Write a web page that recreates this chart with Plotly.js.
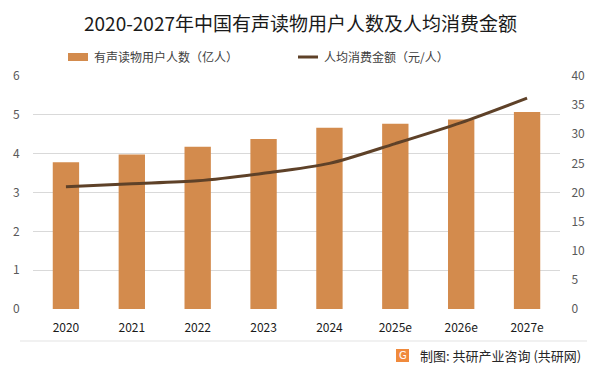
<!DOCTYPE html>
<html>
<head>
<meta charset="utf-8">
<script src="https://cdn.plot.ly/plotly-3.0.1.min.js"></script>
<style>
html,body{margin:0;padding:0;background:#fff;}
#chart{width:601px;height:373px;}
</style>
</head>
<body>
<div id="chart"></div>
<script>
const years = ["2020","2021","2022","2023","2024","2025e","2026e","2027e"];
const users = [3.78, 3.98, 4.18, 4.38, 4.67, 4.77, 4.88, 5.07];
const spend = [21.0, 21.5, 22.0, 23.3, 25.0, 28.4, 32.0, 36.2];
const leftTicks = [0,1,2,3,4,5,6];
const rightTicks = [0,5,10,15,20,25,30,35,40];
const titleText = "2020-2027年中国有声读物用户人数及人均消费金额";
const nameBar = "有声读物用户人数（亿人）";
const nameLine = "人均消费金额（元/人）";
const sourceText = "制图: 共研产业咨询 (共研网)";

const FONT = "'Noto Sans CJK SC', 'Noto Sans', sans-serif";
const barColor = "#D38B4D";
const lineColor = "#5E4128";

const traces = [
  {type:"bar", x:years, y:users, name:nameBar, marker:{color:barColor}, yaxis:"y", showlegend:false, hoverinfo:"y"},
  {type:"scatter", mode:"lines", x:years, y:spend, name:nameLine, yaxis:"y2",
   line:{color:lineColor, width:3, shape:"spline", smoothing:0.8}, showlegend:false}
];

const layout = {
  width:601, height:373,
  margin:{l:33, r:41, t:76, b:64},
  paper_bgcolor:"#fff", plot_bgcolor:"#fff",
  font:{family:FONT, color:"#595959", size:12},
  bargap:0.6,
  showlegend:false,
  title:{text:titleText, x:0.5, xanchor:"center", y:1-24/373, yanchor:"middle",
         font:{family:FONT, size:19, color:"#1a1a1a"}},
  xaxis:{type:"category", showgrid:false, zeroline:false, showline:false,
         ticks:"outside", ticklen:8, tickcolor:"rgba(0,0,0,0)",
         tickfont:{family:FONT, size:12, color:"#1a1a1a"}},
  yaxis:{range:[0,6], tickvals:leftTicks, showgrid:true, gridcolor:"#d9d9d9", gridwidth:1,
         zeroline:false, showline:false, ticks:"outside", ticklen:10, tickcolor:"rgba(0,0,0,0)",
         tickfont:{family:FONT, size:12, color:"#595959"}},
  yaxis2:{range:[0,40], tickvals:rightTicks, overlaying:"y", side:"right", showgrid:false,
          zeroline:false, showline:false, ticks:"outside", ticklen:8, tickcolor:"rgba(0,0,0,0)",
          tickfont:{family:FONT, size:12, color:"#595959"}},
  shapes:[
    {type:"rect", xref:"paper", yref:"paper", x0:(68-33)/527, x1:(88-33)/527, y0:(309-61)/233, y1:(309-53)/233,
     fillcolor:barColor, line:{width:0}},
    {type:"line", xref:"paper", yref:"paper", x0:(298-33)/527, x1:(318-33)/527, y0:(309-57)/233, y1:(309-57)/233,
     line:{color:lineColor, width:3}},
    {type:"line", xref:"paper", yref:"paper", x0:(20-33)/527, x1:(587-33)/527, y0:(309-341)/233, y1:(309-341)/233,
     line:{color:"#e3e3e3", width:1}},
    {type:"rect", xref:"paper", yref:"paper", x0:(396-33)/527, x1:(409-33)/527, y0:(309-362)/233, y1:(309-349)/233,
     fillcolor:"#F08A3C", line:{width:0}}
  ],
  annotations:[
    {text:nameBar, xref:"paper", yref:"paper", x:(92-33)/527, y:(309-57)/233, xanchor:"left", yanchor:"middle",
     showarrow:false, font:{family:FONT, size:12, color:"#404040"}},
    {text:nameLine, xref:"paper", yref:"paper", x:(322-33)/527, y:(309-57)/233, xanchor:"left", yanchor:"middle",
     showarrow:false, font:{family:FONT, size:12, color:"#404040"}},
    {text:"G", xref:"paper", yref:"paper", x:(402.5-33)/527, y:(309-355.5)/233, xanchor:"center", yanchor:"middle",
     showarrow:false, font:{family:"DejaVu Sans", size:10, color:"#ffffff"}},
    {text:sourceText, xref:"paper", yref:"paper", x:(418-33)/527, y:(309-355.5)/233, xanchor:"left", yanchor:"middle",
     showarrow:false, font:{family:FONT, size:13, color:"#262626"}}
  ]
};

Plotly.newPlot("chart", traces, layout, {displayModeBar:false, staticPlot:true});
</script>
</body>
</html>
